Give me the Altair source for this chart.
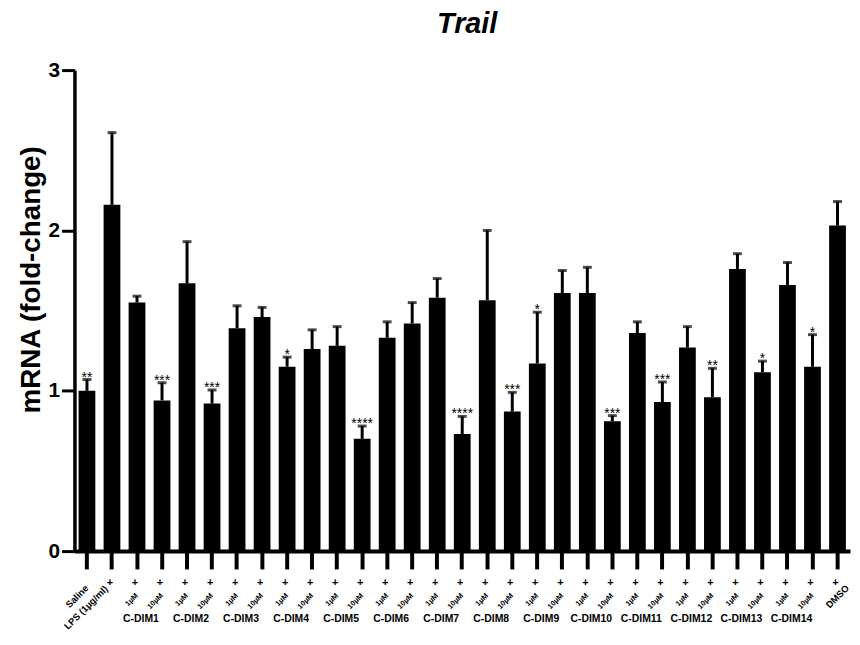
import altair as alt
import pandas as pd

FONT = "Liberation Sans"

categories = [
    "Saline", "LPS",
    "C-DIM1 1µM", "C-DIM1 10µM", "C-DIM2 1µM", "C-DIM2 10µM",
    "C-DIM3 1µM", "C-DIM3 10µM", "C-DIM4 1µM", "C-DIM4 10µM",
    "C-DIM5 1µM", "C-DIM5 10µM", "C-DIM6 1µM", "C-DIM6 10µM",
    "C-DIM7 1µM", "C-DIM7 10µM", "C-DIM8 1µM", "C-DIM8 10µM",
    "C-DIM9 1µM", "C-DIM9 10µM", "C-DIM10 1µM", "C-DIM10 10µM",
    "C-DIM11 1µM", "C-DIM11 10µM", "C-DIM12 1µM", "C-DIM12 10µM",
    "C-DIM13 1µM", "C-DIM13 10µM", "C-DIM14 1µM", "C-DIM14 10µM",
    "DMSO",
]
means = [1.00, 2.16, 1.55, 0.94, 1.67, 0.92, 1.39, 1.46, 1.15, 1.26,
         1.28, 0.70, 1.33, 1.42, 1.58, 0.73, 1.565, 0.87, 1.17, 1.61,
         1.61, 0.81, 1.36, 0.93, 1.27, 0.96, 1.76, 1.115, 1.66, 1.15, 2.03]
sems = [0.07, 0.45, 0.04, 0.11, 0.26, 0.085, 0.14, 0.06, 0.06, 0.12,
        0.12, 0.08, 0.10, 0.13, 0.12, 0.11, 0.435, 0.12, 0.32, 0.14,
        0.16, 0.035, 0.07, 0.125, 0.13, 0.18, 0.095, 0.07, 0.14, 0.20, 0.15]
stars = ["**", "", "", "***", "", "***", "", "", "*", "", "",
         "****", "", "", "", "****", "", "***", "*", "", "", "***",
         "", "***", "", "**", "", "*", "", "*", ""]
plus_row = [""] + ["+"] * 30
dose_row = ["", "",
            "1µM", "10µM", "1µM", "10µM", "1µM", "10µM", "1µM", "10µM",
            "1µM", "10µM", "1µM", "10µM", "1µM", "10µM", "1µM", "10µM",
            "1µM", "10µM", "1µM", "10µM", "1µM", "10µM", "1µM", "10µM",
            "1µM", "10µM", "1µM", "10µM", ""]
group_row = ["", "",
             "C-DIM1", "", "C-DIM2", "", "C-DIM3", "", "C-DIM4", "",
             "C-DIM5", "", "C-DIM6", "", "C-DIM7", "", "C-DIM8", "",
             "C-DIM9", "", "C-DIM10", "", "C-DIM11", "", "C-DIM12", "",
             "C-DIM13", "", "C-DIM14", "", ""]
end_labels = {"Saline": "Saline", "LPS": "LPS (1µg/ml)", "DMSO": "DMSO"}
chart_title = "Trail"
y_title = "mRNA (fold-change)"

df = pd.DataFrame({
    "cat": categories,
    "mean": means,
    "sem": sems,
    "star": stars,
    "plus": plus_row,
    "dose": dose_row,
    "group": group_row,
})
df["upper"] = df["mean"] + df["sem"]
df["endlab"] = [end_labels.get(c, "") for c in categories]

W, H = 782, 485

X = alt.X("cat:N", sort=categories)
x_enc = alt.X(
    "cat:N", sort=categories,
    scale=alt.Scale(paddingInner=0.33, paddingOuter=0.165),
    axis=alt.Axis(labels=False, title=None, domainColor="black", domainWidth=4,
                  tickColor="black", tickWidth=4, tickSize=18, grid=False),
)
y_enc = alt.Y(
    "mean:Q",
    scale=alt.Scale(domain=[0, 3], nice=False),
    axis=alt.Axis(values=[0, 1, 2, 3], format="d", grid=False,
                  labelFont=FONT, labelFontSize=21, labelFontWeight="bold",
                  labelColor="black", labelPadding=2,
                  tickSize=13, tickWidth=3, tickColor="black",
                  domainColor="black", domainWidth=3.5,
                  title=y_title, titleFont=FONT, titleFontSize=28,
                  titleFontWeight="bold", titleColor="black",
                  titleAngle=270, titleAlign="center", titleBaseline="alphabetic",
                  titleX=-35, titleY=211),
)

base = alt.Chart(df)

bars = base.mark_bar(color="black").encode(x=x_enc, y=y_enc)
err = base.mark_rule(color="black", strokeWidth=3).encode(
    x=X, y="mean:Q", y2="upper:Q")
caps = base.mark_tick(color="black", thickness=3, size=9).encode(
    x=X, y="upper:Q")
star_txt = base.mark_text(font=FONT, fontSize=14, baseline="alphabetic",
                          align="center", dy=2, color="black").encode(
    x=X, y="upper:Q", text="star:N")

plus_txt = base.transform_filter("datum.plus != ''").mark_text(
    font=FONT, fontSize=11, fontWeight="bold", baseline="middle",
    align="center", dx=-2, color="black").encode(
    x=X, y=alt.value(H + 32), text="plus:N")

dose_txt = base.transform_filter("datum.dose != ''").mark_text(
    font=FONT, fontSize=7.5, fontWeight="bold", baseline="middle",
    align="right", color="black").encode(
    x=X, y=alt.value(H + 44), text="dose:N", angle=alt.value(315))

group_txt = base.transform_filter("datum.group != ''").mark_text(
    font=FONT, fontSize=10.5, fontWeight="bold", baseline="middle",
    align="center", dx=4, color="black").encode(
    x=X, y=alt.value(H + 68), text="group:N")

saline_txt = base.transform_filter("datum.cat == 'Saline'").mark_text(
    font=FONT, fontSize=9.5, fontWeight="bold", baseline="middle",
    align="right", color="black").encode(
    x=X, y=alt.value(H + 36), text="endlab:N", angle=alt.value(315))

lps_txt = base.transform_filter("datum.cat == 'LPS'").mark_text(
    font=FONT, fontSize=9.5, fontWeight="bold", baseline="middle",
    align="right", dx=-8, color="black").encode(
    x=X, y=alt.value(H + 31), text="endlab:N", angle=alt.value(315))

dmso_txt = base.transform_filter("datum.cat == 'DMSO'").mark_text(
    font=FONT, fontSize=9.5, fontWeight="bold", baseline="middle",
    align="center", color="black").encode(
    x=X, y=alt.value(H + 46), text="endlab:N", angle=alt.value(315))

title_txt = alt.Chart(pd.DataFrame({"t": [chart_title]})).mark_text(
    font=FONT, fontSize=29, fontWeight="bold", fontStyle="italic",
    baseline="alphabetic", align="center", color="black").encode(
    x=alt.value(396), y=alt.value(-37), text="t:N")

chart = alt.layer(
    bars, err, caps, star_txt, plus_txt, dose_txt, group_txt,
    saline_txt, lps_txt, dmso_txt, title_txt,
).properties(
    width=W, height=H,
    autosize=alt.AutoSizeParams(type="none"),
    padding={"left": 67, "top": 60, "right": 2, "bottom": 84},
).configure(font=FONT, background="white").configure_view(stroke=None)

chart.save("out.html", embed_options={"renderer": "svg", "actions": False})
